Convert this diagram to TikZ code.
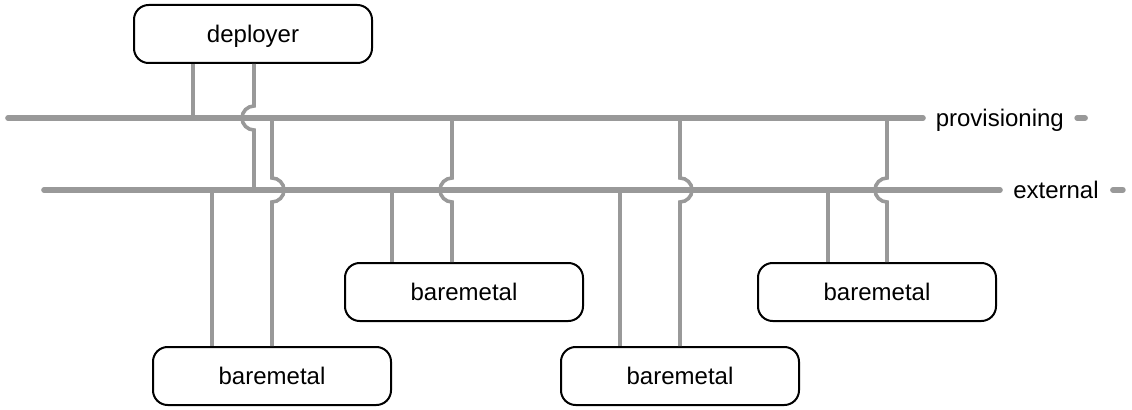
\documentclass[tikz,border=0pt]{standalone}
\usepackage{fontspec}
\setmainfont{Liberation Sans}
\usetikzlibrary{calc,positioning}
\definecolor{wiregrey}{HTML}{999999}

\begin{document}
\begin{tikzpicture}[x=0.75pt,y=-0.75pt]

\tikzset{hostnode/.style={draw=black,line width=1.5pt,rounded corners=11pt,minimum width=178.5pt,minimum height=43.5pt,inner sep=0pt,font=\fontsize{18}{20}\selectfont,text depth=0pt},
bus/.style={line width=4.2pt,color=wiregrey,line cap=round},
wire/.style={line width=2.7pt,color=wiregrey},
netlabel/.style={font=\fontsize{18}{20}\selectfont,inner sep=0pt,anchor=base west}}

\useasboundingbox (0,0) rectangle (1132,410);

% Hosts
\node[hostnode] (deployer) at (253,34) {deployer};
\node[hostnode] (bm1) at (272,376) {baremetal};
\node[hostnode] (bm2) at (464,292) {baremetal};
\node[hostnode] (bm3) at (680,376) {baremetal};
\node[hostnode] (bm4) at (877,292) {baremetal};

% Networks
\coordinate (provL) at (8,118);
\coordinate (provR) at (923,118);
\coordinate (extL) at (44,190);
\coordinate (extR) at (1000,190);
\draw[bus] (provL) -- (provR);
\draw[bus] (extL) -- (extR);

% Network labels
\node[netlabel] (provLabel) at (935.5,126.5) {provisioning};
\node[netlabel] (extLabel) at (1013,198) {external};
\draw[bus] ($(provLabel.east |- provR)+(13,0)$) -- +(8,0);
\draw[bus] ($(extLabel.east |- extR)+(14,0)$) -- +(10,0);

% Deployer taps
\coordinate (dProv) at (193,118);
\coordinate (dExt) at (254,190);
\draw[wire] (deployer.south -| dProv) -- (dProv);
\draw[wire] (deployer.south -| dExt) -- ($(dExt |- provL)+(0,-12)$) arc[start angle=90,end angle=270,radius=9pt] -- (dExt);

% Baremetal taps
\foreach \x/\host in {212/bm1,392/bm2,620/bm3,828/bm4}{
  \coordinate (e\host) at (\x,190);
  \draw[wire] (e\host) -- (e\host |- \host.north);
}
\foreach \x/\host/\s/\e in {272/bm1/90/-90,452/bm2/90/270,680/bm3/90/-90,887/bm4/90/270}{
  \coordinate (p\host) at (\x,118);
  \draw[wire] (p\host) -- ($(p\host |- extL)+(0,-12)$) arc[start angle=\s,end angle=\e,radius=9pt] -- (p\host |- \host.north);
}

\end{tikzpicture}
\end{document}
